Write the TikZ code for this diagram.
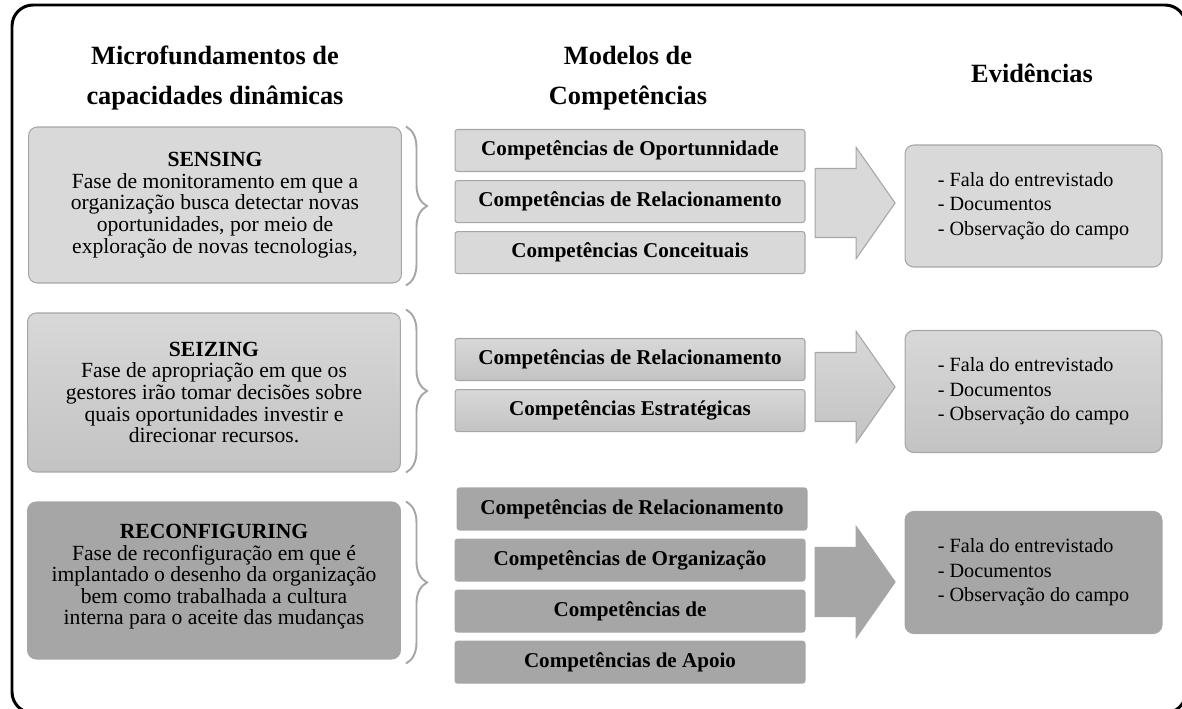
\documentclass[tikz,border=0pt]{standalone}
\usepackage{fontspec}
\setmainfont{Liberation Serif}
\usepackage{tikz}
\usetikzlibrary{shapes.arrows, decorations.pathreplacing, positioning}
\definecolor{phaselight}{RGB}{217, 217, 217}
\definecolor{phasetop}{RGB}{216, 216, 216}
\definecolor{phasebottom}{RGB}{195, 195, 195}
\definecolor{phasedark}{RGB}{166, 166, 166}
\definecolor{edgegray}{RGB}{166, 166, 166}

\begin{document}
\begin{tikzpicture}[x=0.02cm, y=-0.02cm,
    coltitle/.style={font=\fontsize{15}{22.7}\selectfont\bfseries, align=center},
    phasebox/.style={draw=edgegray, line width=0.6pt, rounded corners=5pt, minimum width=7.46cm, align=center, inner sep=0pt, font=\fontsize{12.3}{12.3}\selectfont},
    compbox/.style={draw=edgegray, line width=0.6pt, rounded corners=1.5pt, minimum width=7cm, minimum height=0.84cm, inner sep=0pt, font=\fontsize{12}{12}\selectfont\bfseries},
    evidbox/.style={draw=edgegray, line width=0.6pt, rounded corners=5pt, minimum width=5.14cm, minimum height=2.44cm, align=left, inner sep=0pt, font=\fontsize{11.5}{13.9}\selectfont},
    bigarrow/.style={single arrow, draw=edgegray, line width=0.6pt, minimum height=1.6cm, text height=0.68cm, text depth=0.68cm, text width=0pt, single arrow head extend=0.42cm, single arrow tip angle=110, inner sep=0pt},
    phasebrace/.style={decorate, decoration={brace, amplitude=0.42cm}, draw=edgegray, line width=1.1pt},
    lightfill/.style={fill=phaselight},
    midfill/.style={top color=phasetop, bottom color=phasebottom},
    darkfill/.style={fill=phasedark, draw=phasedark}
  ]
  \useasboundingbox (0,0) rectangle (1182,709);

  % outer frame
  \draw[line width=1.7pt, rounded corners=12pt] (12,5) rectangle (1186,713);

  % column titles
  \node[coltitle] (titlemicro) at (215,78) {Microfundamentos de\\capacidades dinâmicas};
  \node[coltitle] (titlemodel) at (628,78) {Modelos de\\Competências};
  \node[coltitle] (titleevid) at (1032,73) {Evidências};

  % phases
  \node[phasebox, lightfill, minimum height=3.12cm] (sensing) at (215,205)
    {\textbf{SENSING}\\Fase de monitoramento em que a\\organização busca detectar novas\\oportunidades, por meio de\\exploração de novas tecnologias,};
  \node[phasebox, midfill, minimum height=3.18cm] (seizing) at (214,392.5)
    {\textbf{SEIZING}\\Fase de apropriação em que os\\gestores irão tomar decisões sobre\\quais oportunidades investir e\\direcionar recursos.};
  \node[phasebox, darkfill, minimum height=3.14cm] (reconf) at (214,580.5)
    {\textbf{RECONFIGURING}\\Fase de reconfiguração em que é\\implantado o desenho da organização\\bem como trabalhada a cultura\\interna para o aceite das mudanças\\[-5.5pt]};

  % braces
  \draw[phasebrace] ([xshift=0.08cm]sensing.north east) -- ([xshift=0.08cm, yshift=-0.04cm]sensing.south east);
  \draw[phasebrace] ([xshift=0.1cm, yshift=0.06cm]seizing.north east) -- ([xshift=0.1cm]seizing.south east);
  \draw[phasebrace] ([xshift=0.1cm]reconf.north east) -- ([xshift=0.1cm, yshift=-0.08cm]reconf.south east);

  % competence models
  \node[compbox, lightfill] (sopor) at (630,150.5) {Competências de Oportunnidade};
  \node[compbox, lightfill, below=0.16cm of sopor] (srel) {Competências de Relacionamento};
  \node[compbox, lightfill, below=0.16cm of srel] (sconc) {Competências Conceituais};

  \node[compbox, midfill] (zrel) at (630,359.5) {Competências de Relacionamento};
  \node[compbox, midfill, below=0.16cm of zrel] (zestr) {Competências Estratégicas};

  \node[compbox, darkfill] (rrel) at (632,509) {Competências de Relacionamento};
  \node[compbox, darkfill, below=0.16cm of rrel, xshift=-0.04cm] (rorg) {Competências de Organização};
  \node[compbox, darkfill, below=0.16cm of rorg] (rmud) {Competências de};
  \node[compbox, darkfill, below=0.16cm of rmud] (rapoio) {Competências de Apoio};

  % arrows
  \node[bigarrow, lightfill] (sarrow) at (843,203) {};
  \node[bigarrow, midfill] (zarrow) at (843,387) {};
  \node[bigarrow, darkfill] (rarrow) at (843,582) {};

  % evidences
  \node[evidbox, lightfill] (sevid) at (1033.5,206) {- Fala do entrevistado\\- Documentos\\- Observação do campo};
  \node[evidbox, midfill] (zevid) at (1033.5,391.5) {- Fala do entrevistado\\- Documentos\\- Observação do campo};
  \node[evidbox, darkfill] (revid) at (1033.5,572.5) {- Fala do entrevistado\\- Documentos\\- Observação do campo};
\end{tikzpicture}
\end{document}
